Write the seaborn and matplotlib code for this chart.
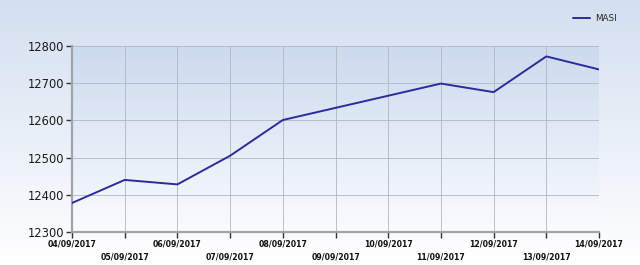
import matplotlib
matplotlib.use("Agg")
import matplotlib.pyplot as plt
import numpy as np
import pandas as pd
import seaborn as sns
from matplotlib.colors import LinearSegmentedColormap

dates = ["2017-09-04", "2017-09-05", "2017-09-06", "2017-09-07", "2017-09-08",
         "2017-09-11", "2017-09-12", "2017-09-13", "2017-09-14"]
masi = [12378, 12440, 12428, 12505, 12601, 12699, 12676, 12772, 12737]
tick_dates = pd.date_range("2017-09-04", "2017-09-14", freq="D")
y_ticks = [12300, 12400, 12500, 12600, 12700, 12800]

df = pd.DataFrame({"date": pd.to_datetime(dates), "MASI": masi})

sns.set_theme(style="white")
plt.rcParams['font.family'] = ['DejaVu Sans']

fig = plt.figure(figsize=(6.4, 2.65), dpi=100)
bg = fig.add_axes([0, 0, 1, 1], zorder=-10)
grad = np.linspace(0, 1, 256).reshape(-1, 1)
cm_fig = LinearSegmentedColormap.from_list("g", ["#d3dff0", "#ffffff"])
bg.imshow(grad, aspect="auto", cmap=cm_fig, extent=[0, 1, 0, 1], origin="upper")
bg.axis("off")

ax = fig.add_axes([72/640, 1-232/265, (599-72)/640, (232-46)/265])
ax.set_facecolor("none")
cm_ax = LinearSegmentedColormap.from_list("a", ["#ccdaee", "#fafcfe"])
ax.imshow(grad, aspect="auto", cmap=cm_ax, extent=[0, 1, 0, 1], origin="upper",
          transform=ax.transAxes, zorder=0)

sns.lineplot(data=df, x="date", y="MASI", ax=ax, color="#2b2b9c", linewidth=1.4,
             label="MASI", zorder=3)

ax.set_xlim(tick_dates[0], tick_dates[-1])
ax.set_ylim(12300, 12800)
ax.set_yticks(y_ticks)
ax.set_yticklabels([str(v) for v in y_ticks], fontsize=8.3, color="#1a1a1a")
ax.set_xticks(tick_dates)
labels = []
for i, d in enumerate(tick_dates):
    s = d.strftime("%d/%m/%Y")
    labels.append(s if i % 2 == 0 else "\n" + s)
ax.set_xticklabels(labels, fontsize=5.6, fontweight="bold", color="#111111", linespacing=1.6)
ax.set_xlabel("")
ax.set_ylabel("")
ax.grid(True, color="#b0b6c0", linewidth=0.6)
ax.tick_params(axis="both", which="both", direction="out", length=4, width=1,
               color="#333333", pad=1.5, left=True, bottom=True)
for side in ["top", "right"]:
    ax.spines[side].set_visible(False)
for side in ["left", "bottom"]:
    ax.spines[side].set_color("#a0a4aa")
    ax.spines[side].set_linewidth(1.6)

leg = ax.legend(loc="upper right", bbox_to_anchor=(1.048, 1.215), frameon=False,
                fontsize=6.3, handlelength=2.0, handletextpad=0.5)

fig.savefig("out.png", dpi=100)
